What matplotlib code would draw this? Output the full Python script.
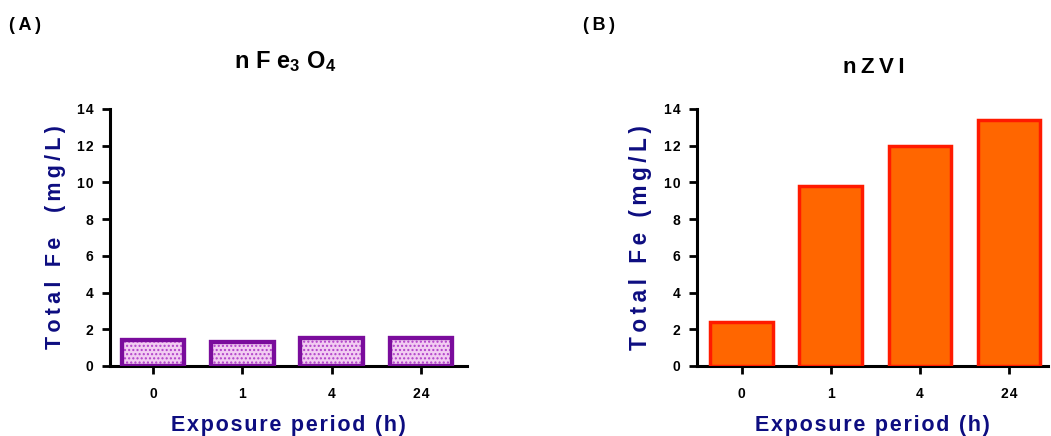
import numpy as np
import matplotlib
matplotlib.use('Agg')
import matplotlib.pyplot as plt

plt.rcParams['font.family'] = ['Liberation Sans', 'DejaVu Sans']
plt.rcParams['font.weight'] = 'bold'
plt.rcParams['mathtext.fontset'] = 'custom'
plt.rcParams['mathtext.bf'] = 'Liberation Sans:bold'
plt.rcParams['mathtext.rm'] = 'Liberation Sans:bold'
plt.rcParams['hatch.linewidth'] = 1.0

# data
periods = ['0', '1', '4', '24']
fe3o4 = [1.4, 1.3, 1.5, 1.55]
nzvi = [2.4, 9.8, 12.0, 13.4]
yticks = [0, 2, 4, 6, 8, 10, 12, 14]

NAVY = '#0d0d80'


def spaced(s, sep='\u200a'):
    return sep.join(s)


fig = plt.figure(figsize=(10.51, 4.36), dpi=100)
ax1 = fig.add_axes([0.1047, 0.1606, 0.3393, 0.5894])
ax2 = fig.add_axes([0.6632, 0.1606, 0.3340, 0.5894])

pos = np.arange(len(periods))
ax1.bar(pos, fe3o4, width=0.7, color='#f2ccf2', edgecolor='#7a0c9c',
        linewidth=3, zorder=3)
# dotted fill drawn separately so the dots can be lighter than the edge
ax1.bar(pos, fe3o4, width=0.7, color='none', edgecolor='#b040c8',
        linewidth=0, hatch='....', zorder=3)
ax1.bar(pos, fe3o4, width=0.7, color='none', edgecolor='#7a0c9c',
        linewidth=3, zorder=4)
ax2.bar(pos, nzvi, width=0.7, color='#ff6600', edgecolor='#ff1a00',
        linewidth=2.5, zorder=3)

for ax, xl in ((ax1, (-0.48, 3.51)), (ax2, (-0.5, 3.44))):
    ax.set_xlim(*xl)
    ax.set_ylim(0, 14)
    ax.set_yticks(yticks)
    ax.set_yticklabels([spaced(str(t)) for t in yticks], fontsize=10,
                       fontweight='bold')
    ax.set_xticks(pos)
    ax.set_xticklabels([spaced(p) for p in periods], fontsize=10,
                       fontweight='bold')
    for sp in ('top', 'right'):
        ax.spines[sp].set_visible(False)
    for sp in ('left', 'bottom'):
        ax.spines[sp].set_linewidth(2.2)
    ax.tick_params(axis='both', direction='out', length=6, width=2,
                   pad=6)
    ax.tick_params(axis='x', pad=9)
    ax.set_xlabel(spaced('Exposure period (h)'), fontsize=15.5,
                  fontweight='bold', color=NAVY, labelpad=10)

ax1.set_ylabel(spaced('Total Fe  (mg/L)', '\u2009'), fontsize=15.5,
               fontweight='bold', color=NAVY)
ax1.yaxis.set_label_coords(-0.124, 0.5)
ax2.set_ylabel(spaced('Total Fe (mg/L)', '\u2009'), fontsize=16.3,
               fontweight='bold', color=NAVY)
ax2.yaxis.set_label_coords(-0.128, 0.5)

fig.text(0.271, 0.858, r'$\mathbf{n\;F\;e_{3}\;O_{4}}$', fontsize=17,
         ha='center', va='center')
fig.text(0.831, 0.846, spaced('nZVI', '\u2009'), fontsize=16,
         fontweight='bold', ha='center', va='center')
fig.text(0.009, 0.942, spaced('(A)', '\u2009'), fontsize=13,
         fontweight='bold', ha='left', va='center')
fig.text(0.555, 0.942, spaced('(B)', '\u2009'), fontsize=13,
         fontweight='bold', ha='left', va='center')

fig.savefig('out.png', dpi=100)
